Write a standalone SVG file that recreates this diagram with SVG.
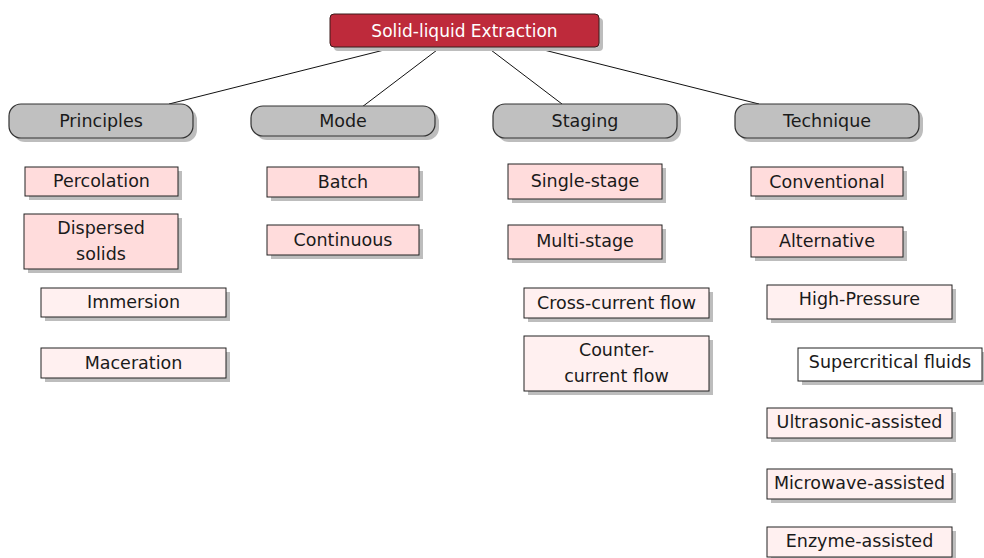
<svg xmlns="http://www.w3.org/2000/svg" width="984" height="558" viewBox="0 0 984 558">
<style>
text{font-family:"DejaVu Sans","Liberation Sans",sans-serif;font-size:17.5px;fill:#1a1a1a;text-anchor:middle}
.sh{fill:#bdbdbd}
.root{fill:#be2a3b;stroke:#3a1a1a;stroke-width:1}
.roott{fill:#ffffff;font-size:17px}
.pill{fill:#c0c0c0;stroke:#333;stroke-width:1.2}
.l2{fill:#ffdcdc;stroke:#222;stroke-width:1}
.l3{fill:#fff0f0;stroke:#222;stroke-width:1}
.l4{fill:#ffffff;stroke:#222;stroke-width:1}
.con line{stroke:#111;stroke-width:1}
</style>
<rect width="984" height="558" fill="#ffffff"/>
<g class="con" id="connectors">
<line x1="396" y1="47" x2="169" y2="104"/>
<line x1="441" y1="47" x2="362" y2="107"/>
<line x1="487" y1="47" x2="562" y2="104"/>
<line x1="532" y1="47" x2="759" y2="104"/>
</g>
<g id="root">
<rect class="sh" x="334" y="18" width="269" height="33" rx="4"/>
<rect class="root" x="330" y="14" width="269" height="33" rx="4"/>
<text class="roott" x="464.5" y="36.5">Solid-liquid Extraction</text>
</g>
<g id="principles">
<rect class="sh" x="13" y="108" width="184" height="34" rx="12"/>
<rect class="pill" x="9" y="104" width="184" height="34" rx="12"/>
<text x="101" y="127">Principles</text>
</g>
<g id="mode">
<rect class="sh" x="255" y="110" width="184" height="30" rx="12"/>
<rect class="pill" x="251" y="106" width="184" height="30" rx="12"/>
<text x="343" y="127">Mode</text>
</g>
<g id="staging">
<rect class="sh" x="497" y="108" width="184" height="34" rx="12"/>
<rect class="pill" x="493" y="104" width="184" height="34" rx="12"/>
<text x="585" y="127">Staging</text>
</g>
<g id="technique">
<rect class="sh" x="739" y="108" width="184" height="34" rx="12"/>
<rect class="pill" x="735" y="104" width="184" height="34" rx="12"/>
<text x="827" y="127">Technique</text>
</g>
<g id="percolation">
<rect class="sh" x="29" y="171" width="153" height="29"/>
<rect class="l2" x="25" y="167" width="153" height="29"/>
<text x="101.5" y="187">Percolation</text>
</g>
<g id="dispersed">
<rect class="sh" x="28" y="218" width="154" height="55"/>
<rect class="l2" x="24" y="214" width="154" height="55"/>
<text x="101" y="234">Dispersed</text>
<text x="101" y="260">solids</text>
</g>
<g id="immersion">
<rect class="sh" x="45" y="292" width="185" height="29"/>
<rect class="l3" x="41" y="288" width="185" height="29"/>
<text x="133.5" y="308">Immersion</text>
</g>
<g id="maceration">
<rect class="sh" x="45" y="352" width="185" height="30"/>
<rect class="l3" x="41" y="348" width="185" height="30"/>
<text x="133.5" y="369">Maceration</text>
</g>
<g id="batch">
<rect class="sh" x="271" y="171" width="152" height="30"/>
<rect class="l2" x="267" y="167" width="152" height="30"/>
<text x="343" y="188">Batch</text>
</g>
<g id="continuous">
<rect class="sh" x="271" y="229" width="152" height="30"/>
<rect class="l2" x="267" y="225" width="152" height="30"/>
<text x="343" y="246">Continuous</text>
</g>
<g id="single">
<rect class="sh" x="512" y="168" width="154" height="35"/>
<rect class="l2" x="508" y="164" width="154" height="35"/>
<text x="585" y="187">Single-stage</text>
</g>
<g id="multi">
<rect class="sh" x="512" y="229" width="154" height="34"/>
<rect class="l2" x="508" y="225" width="154" height="34"/>
<text x="585" y="247">Multi-stage</text>
</g>
<g id="cross">
<rect class="sh" x="528" y="292" width="185" height="30"/>
<rect class="l3" x="524" y="288" width="185" height="30"/>
<text x="616.5" y="309">Cross-current flow</text>
</g>
<g id="counter">
<rect class="sh" x="528" y="340" width="185" height="55"/>
<rect class="l3" x="524" y="336" width="185" height="55"/>
<text x="616.5" y="356">Counter-</text>
<text x="616.5" y="382">current flow</text>
</g>
<g id="conventional">
<rect class="sh" x="755" y="171" width="152" height="29"/>
<rect class="l2" x="751" y="167" width="152" height="29"/>
<text x="827" y="188">Conventional</text>
</g>
<g id="alternative">
<rect class="sh" x="755" y="231" width="152" height="30"/>
<rect class="l2" x="751" y="227" width="152" height="30"/>
<text x="827" y="247">Alternative</text>
</g>
<g id="highpressure">
<rect class="sh" x="771" y="289" width="185" height="34"/>
<rect class="l3" x="767" y="285" width="185" height="34"/>
<text x="859.5" y="305">High-Pressure</text>
</g>
<g id="supercritical">
<rect class="sh" x="802" y="352" width="184" height="33"/>
<rect class="l4" x="798" y="348" width="184" height="33"/>
<text x="890" y="368">Supercritical fluids</text>
</g>
<g id="ultrasonic">
<rect class="sh" x="771" y="412" width="185" height="30"/>
<rect class="l3" x="767" y="408" width="185" height="30"/>
<text x="859.5" y="428">Ultrasonic-assisted</text>
</g>
<g id="microwave">
<rect class="sh" x="771" y="473" width="185" height="30"/>
<rect class="l3" x="767" y="469" width="185" height="30"/>
<text x="859.5" y="489">Microwave-assisted</text>
</g>
<g id="enzyme">
<rect class="sh" x="771" y="531" width="185" height="30"/>
<rect class="l3" x="767" y="527" width="185" height="30"/>
<text x="859.5" y="547">Enzyme-assisted</text>
</g>
</svg>
